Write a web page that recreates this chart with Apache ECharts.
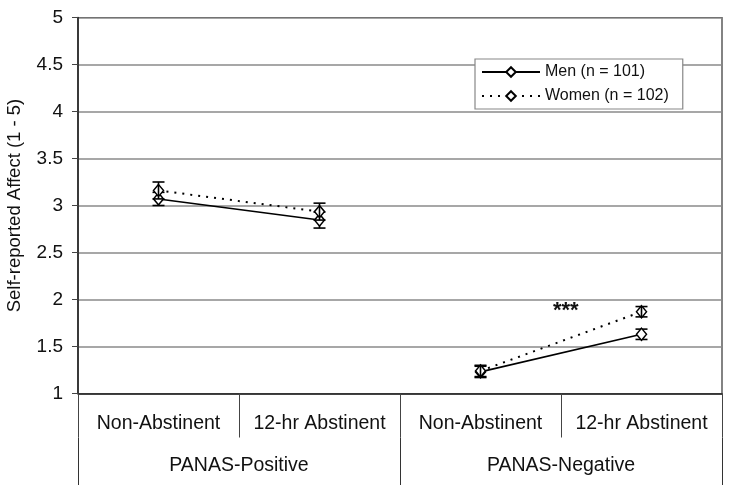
<!DOCTYPE html>
<html>
<head>
<meta charset="utf-8">
<script src="https://cdn.jsdelivr.net/npm/echarts@6/dist/echarts.min.js"></script>
<style>
html,body{margin:0;padding:0;background:#fff;}
#chart{width:729px;height:485px;}
</style>
</head>
<body>
<div id="chart"></div>
<script>
var categories = ['Non-Abstinent', '12-hr Abstinent', 'Non-Abstinent', '12-hr Abstinent'];
var groups = ['PANAS-Positive', 'PANAS-Negative'];
var menMeans = [3.07, 2.845, 1.23, 1.63];
var menErr = [0.07, 0.085, 0.06, 0.055];
var womenMeans = [3.16, 2.935, 1.24, 1.87];
var womenErr = [0.09, 0.09, 0.06, 0.055];
var yTicks = [1, 1.5, 2, 2.5, 3, 3.5, 4, 4.5, 5];
var menName = 'Men (n = 101)';
var womenName = 'Women (n = 102)';
var annotation = {x: 2.53, y: 1.88, text: '***'};

var FONT = 'Liberation Sans, Arial, sans-serif';

function part(arr, lo, hi) {
  return arr.map(function (v, i) { return (i >= lo && i <= hi) ? v : null; });
}
function errData(means, errs) {
  return means.map(function (m, i) { return [i, m, errs[i]]; });
}
function errRender(params, api) {
  var x = api.value(0), m = api.value(1), e = api.value(2);
  var top = api.coord([x, m + e]);
  var bot = api.coord([x, m - e]);
  var hw = 6;
  var st = {stroke: '#000', lineWidth: 1.6};
  return {
    type: 'group',
    children: [
      {type: 'line', shape: {x1: top[0], y1: top[1], x2: bot[0], y2: bot[1]}, style: st},
      {type: 'line', shape: {x1: top[0] - hw, y1: top[1], x2: top[0] + hw, y2: top[1]}, style: st},
      {type: 'line', shape: {x1: bot[0] - hw, y1: bot[1], x2: bot[0] + hw, y2: bot[1]}, style: st}
    ]
  };
}
function annotRender(params, api) {
  var xv = api.value(0), yv = api.value(1);
  var i0 = Math.floor(xv), f = xv - i0;
  var p0 = api.coord([i0, yv]);
  var p1 = api.coord([i0 + 1, yv]);
  var px = p0[0] + f * (p1[0] - p0[0]);
  return {
    type: 'text',
    style: {text: annotation.text, x: px, y: p0[1], align: 'center', verticalAlign: 'middle',
      font: 'bold 22px ' + FONT, fill: '#111'}
  };
}

var menLine = {color: '#000', width: 1.6, type: 'solid'};
var womenLine = {color: '#000', width: 2, type: [2, 6]};
var markerStyle = {color: '#fff', borderColor: '#000', borderWidth: 1.5};

function lineSeries(name, data, ls) {
  return {
    name: name, type: 'line', data: data, connectNulls: false,
    symbol: 'diamond', symbolSize: [10, 12], showAllSymbol: true,
    lineStyle: ls, itemStyle: markerStyle, z: 3, animation: false
  };
}

var chart = echarts.init(document.getElementById('chart'));
chart.setOption({
  animation: false,
  textStyle: {fontFamily: FONT},
  grid: {left: 78, right: 7, top: 17.5, bottom: 91.5, containLabel: false, outerBoundsMode: 'none',
    show: true, borderColor: '#333', borderWidth: 1.2, backgroundColor: 'transparent'},
  legend: {
    orient: 'vertical', left: 475, top: 59,
    data: [menName, womenName],
    itemWidth: 58, itemHeight: 12, itemGap: 8,
    padding: [5, 14, 5, 6],
    backgroundColor: '#fff', borderColor: '#888', borderWidth: 1.2,
    textStyle: {fontFamily: FONT, fontSize: 16, color: '#111'}
  },
  xAxis: [
    {
      type: 'category', data: categories, position: 'bottom', boundaryGap: true,
      axisLine: {show: true, lineStyle: {color: '#222', width: 1.5}},
      axisTick: {show: true, length: 44, interval: 0, lineStyle: {color: '#444', width: 1}},
      axisLabel: {interval: 0, margin: 20, fontFamily: FONT, fontSize: 19.5, color: '#111'}
    },
    {
      type: 'category', data: groups, position: 'bottom', offset: 44, boundaryGap: true,
      axisLine: {show: false},
      axisTick: {show: true, length: 50, interval: 0, lineStyle: {color: '#333', width: 1}},
      axisLabel: {interval: 0, margin: 18, fontFamily: FONT, fontSize: 19.5, color: '#111'}
    }
  ],
  yAxis: {
    type: 'value', min: 1, max: 5, interval: 0.5,
    name: 'Self-reported Affect (1 - 5)', nameLocation: 'middle', nameGap: 54, nameRotate: 90,
    nameTextStyle: {fontFamily: FONT, fontSize: 18.5, color: '#111'},
    axisLine: {show: true, lineStyle: {color: '#222', width: 1.5}},
    axisTick: {show: true, length: 6, lineStyle: {color: '#444'}},
    axisLabel: {margin: 15, fontFamily: FONT, fontSize: 19, color: '#111',
      formatter: function (v) { return yTicks.indexOf(v) >= 0 ? String(v) : ''; }},
    splitLine: {show: true, lineStyle: {color: '#8a8a8a', width: 1.5}}
  },
  series: [
    {type: 'custom', name: 'menErr', renderItem: errRender, data: errData(menMeans, menErr), encode: {x: 0, y: 1}, z: 2, silent: true},
    {type: 'custom', name: 'womenErr', renderItem: errRender, data: errData(womenMeans, womenErr), encode: {x: 0, y: 1}, z: 4, silent: true},
    lineSeries(menName, part(menMeans, 0, 1), menLine),
    lineSeries(menName, part(menMeans, 2, 3), menLine),
    lineSeries(womenName, part(womenMeans, 0, 1), womenLine),
    lineSeries(womenName, part(womenMeans, 2, 3), womenLine),
    {type: 'custom', name: 'annot', renderItem: annotRender, data: [[annotation.x, annotation.y]],
      encode: {x: 0, y: 1}, z: 5, silent: true}
  ]
});
</script>
</body>
</html>
